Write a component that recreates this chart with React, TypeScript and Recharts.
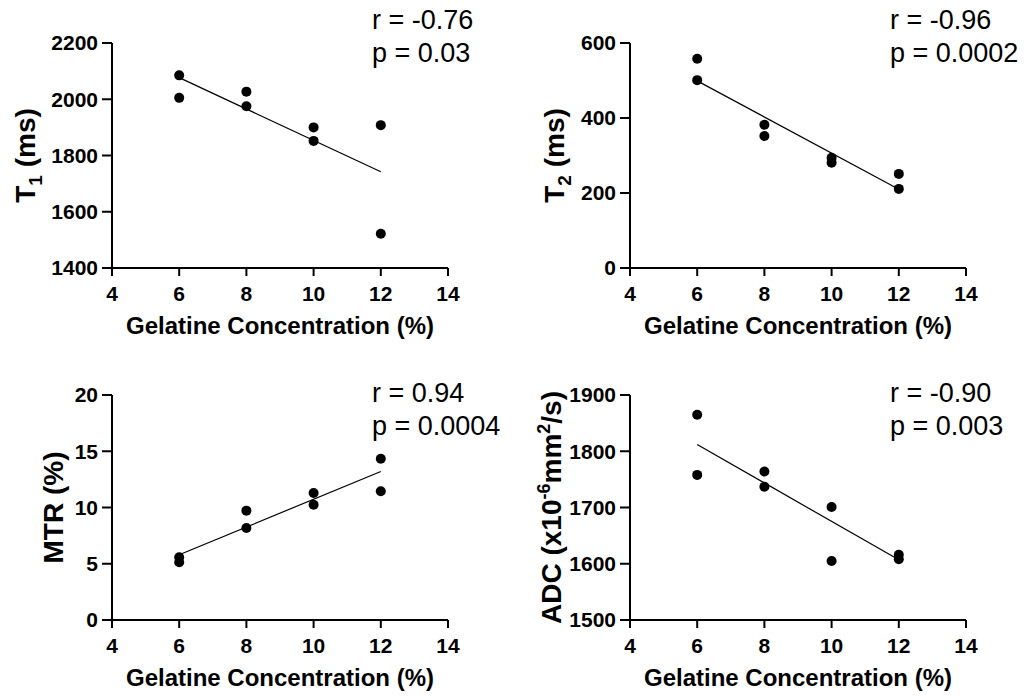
import React from "react";
import { ScatterChart, Scatter, XAxis, YAxis, ReferenceLine } from "recharts";

const FONT = '"Liberation Sans", Arial, Helvetica, sans-serif';

// gelatine concentration (%) for each phantom, two per level
const concentration = [6, 6, 8, 8, 10, 10, 12, 12];
const t1Values = [2085, 2005, 2027, 1975, 1900, 1852, 1908, 1522];
const t2Values = [558, 501, 382, 352, 294, 281, 251, 211];
const mtrValues = [5.57, 5.13, 9.72, 8.18, 11.29, 10.25, 14.34, 11.44];
const adcValues = [1865, 1758, 1764, 1737, 1701, 1605, 1616, 1608];

// regression line ends, read at 6% and 12%
const fitX = [6, 12];
const t1Fit = [2077, 1742];
const t2Fit = [499, 210];
const mtrFit = [5.8, 13.2];
const adcFit = [1812, 1607];

const xTicks = [4, 6, 8, 10, 12, 14];
const t1Ticks = [1400, 1600, 1800, 2000, 2200];
const t2Ticks = [0, 200, 400, 600];
const mtrTicks = [0, 5, 10, 15, 20];
const adcTicks = [1500, 1600, 1700, 1800, 1900];

const t1Stats = ["r = -0.76", "p = 0.03"];
const t2Stats = ["r = -0.96", "p = 0.0002"];
const mtrStats = ["r = 0.94", "p = 0.0004"];
const adcStats = ["r = -0.90", "p = 0.003"];

const W = 515;
const H = 345;

const Dot = (props: any) => <circle cx={props.cx} cy={props.cy} r={5} fill="#000" />;

const xTitle = (props: any) => {
  const vb = props.viewBox;
  return (
    <text
      x={vb.x + vb.width / 2}
      y={vb.y + 66}
      textAnchor="middle"
      fontFamily={FONT}
      fontWeight={700}
      fontSize={24}
      fill="#000"
    >
      Gelatine Concentration (%)
    </text>
  );
};

const yTitle = (title: React.ReactNode, offset: number) => (props: any) => {
  const vb = props.viewBox;
  const cx = vb.x + vb.width - offset;
  const cy = vb.y + vb.height / 2;
  return (
    <text
      x={cx}
      y={cy + 10}
      transform={`rotate(-90 ${cx} ${cy})`}
      textAnchor="middle"
      fontFamily={FONT}
      fontWeight={700}
      fontSize={28}
      fill="#000"
    >
      {title}
    </text>
  );
};

interface PanelProps {
  left: number;
  top: number;
  values: number[];
  fit: number[];
  ticks: number[];
  title: React.ReactNode;
  titleOffset: number;
  stats: string[];
  statsTop: number;
}

function Panel({ left, top, values, fit, ticks, title, titleOffset, stats, statsTop }: PanelProps) {
  const data = concentration.map((x, i) => ({ x, y: values[i] }));
  const tick = { fill: "#000", fontSize: 21, fontWeight: 700, fontFamily: FONT };
  return (
    <div style={{ position: "absolute", left, top, width: W, height: H }}>
      <ScatterChart width={W} height={H} margin={{ top: 43, right: 67, bottom: 7, left: 32 }}>
        <XAxis
          type="number"
          dataKey="x"
          domain={[4, 14]}
          ticks={xTicks}
          height={70}
          tick={tick}
          tickSize={8}
          tickMargin={10}
          axisLine={{ stroke: "#000", strokeWidth: 2 }}
          tickLine={{ stroke: "#000", strokeWidth: 2 }}
          label={xTitle}
        />
        <YAxis
          type="number"
          dataKey="y"
          domain={[ticks[0], ticks[ticks.length - 1]]}
          ticks={ticks}
          width={80}
          tick={tick}
          tickSize={10}
          tickMargin={4}
          axisLine={{ stroke: "#000", strokeWidth: 2 }}
          tickLine={{ stroke: "#000", strokeWidth: 2 }}
          label={yTitle(title, titleOffset)}
        />
        <ReferenceLine
          segment={[
            { x: fitX[0], y: fit[0] },
            { x: fitX[1], y: fit[1] },
          ]}
          stroke="#000"
          strokeWidth={1.2}
        />
        <Scatter data={data} fill="#000" shape={Dot} isAnimationActive={false} />
      </ScatterChart>
      <div
        style={{
          position: "absolute",
          left: 372,
          top: statsTop,
          fontFamily: FONT,
          fontSize: 27,
          lineHeight: "33px",
          color: "#000",
          whiteSpace: "nowrap",
        }}
      >
        {stats[0]}
        <br />
        {stats[1]}
      </div>
    </div>
  );
}

export default function App() {
  return (
    <div style={{ position: "absolute", left: 0, top: 0, width: 1031, height: 697, background: "#fff", overflow: "hidden" }}>
      <Panel
        left={0}
        top={0}
        values={t1Values}
        fit={t1Fit}
        ticks={t1Ticks}
        title={
          <>
            <tspan>T</tspan>
            <tspan fontSize={19} dy={7}>1</tspan>
            <tspan dy={-7}> (ms)</tspan>
          </>
        }
        titleOffset={87}
        stats={t1Stats}
        statsTop={4}
      />
      <Panel
        left={518}
        top={0}
        values={t2Values}
        fit={t2Fit}
        ticks={t2Ticks}
        title={
          <>
            <tspan>T</tspan>
            <tspan fontSize={19} dy={7}>2</tspan>
            <tspan dy={-7}> (ms)</tspan>
          </>
        }
        titleOffset={76}
        stats={t2Stats}
        statsTop={4}
      />
      <Panel
        left={0}
        top={352}
        values={mtrValues}
        fit={mtrFit}
        ticks={mtrTicks}
        title="MTR (%)"
        titleOffset={59}
        stats={mtrStats}
        statsTop={25}
      />
      <Panel
        left={518}
        top={352}
        values={adcValues}
        fit={adcFit}
        ticks={adcTicks}
        title={
          <>
            <tspan>ADC (x10</tspan>
            <tspan fontSize={18} dy={-11}>-6</tspan>
            <tspan dy={11}>mm</tspan>
            <tspan fontSize={18} dy={-11}>2</tspan>
            <tspan dy={11}>/s)</tspan>
          </>
        }
        titleOffset={79}
        stats={adcStats}
        statsTop={25}
      />
    </div>
  );
}
